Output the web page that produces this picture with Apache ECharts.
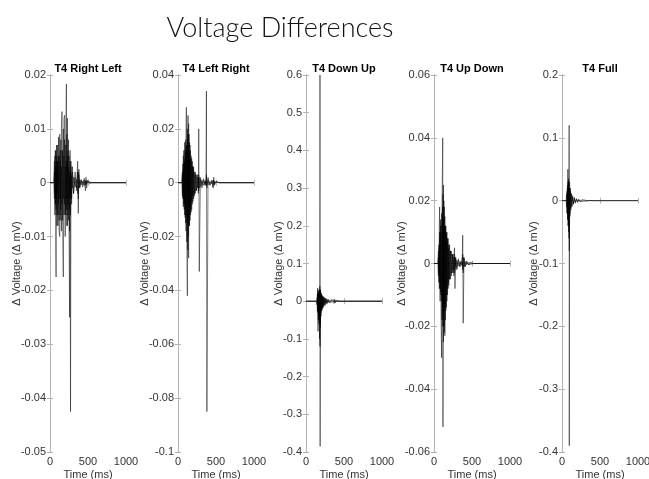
<!DOCTYPE html>
<html>
<head>
<meta charset="utf-8">
<script src="https://cdn.jsdelivr.net/npm/echarts@6/dist/echarts.min.js"></script>
<style>html,body{margin:0;padding:0;background:#fff}#c{width:649px;height:479px}</style>
</head>
<body>
<div id="c"></div>
<script>
// ---- data ----
const panelTitles = ['T4 Right Left', 'T4 Left Right', 'T4 Down Up', 'T4 Up Down', 'T4 Full'];
const xTicks = [0, 500, 1000];
const yMins = [-0.05, -0.1, -0.4, -0.06, -0.4];
const yMaxs = [0.02, 0.04, 0.6, 0.06, 0.2];
const yIntervals = [0.01, 0.02, 0.1, 0.02, 0.1];

// T4 Right Left
const timeRL = [0,50,58,64,70,76,80,86,92,98,105,112,120,128,135,142,150,158,166,175,184,192,200,208,216,222,228,236,244,252,258,264,270,276,284,295,310,330,350,364,372,380,392,410,430,450,466,474,482,495,520,560,1000];
const rlA = [0,0,0.004,-0.006,0.006,-0.012,-0.0175,0.005,-0.008,0.007,-0.006,0.0085,-0.009,-0.010,0.006,-0.007,0.010,0.0132,-0.008,-0.0175,0.012,0.0125,-0.006,0.010,0.0183,-0.008,0.012,-0.006,0.008,-0.012,-0.025,0.006,-0.0425,0.004,-0.004,0.003,-0.002,0.002,-0.001,0.004,-0.0057,0.0025,-0.001,0.0005,-0.0008,0.0005,-0.0015,0.001,-0.001,0.0005,-0.0002,0,0];
const rlB = [0,0,-0.003,0.005,-0.004,0.006,-0.005,0.007,-0.006,0.004,-0.008,0.005,-0.007,0.009,-0.006,0.008,-0.009,0.006,-0.007,0.010,-0.006,0.008,-0.010,0.007,-0.005,0.009,-0.008,0.006,-0.007,0.005,-0.009,0.004,-0.006,0.003,-0.003,0.002,-0.002,0.001,-0.0015,0.002,-0.003,0.0015,-0.0008,0.0006,-0.0004,0.0008,-0.0005,0.0004,-0.0003,0.0002,-0.0001,0,0];
const rlC = [0,0,0.002,-0.002,0.003,-0.004,0.002,-0.003,0.004,-0.002,0.003,-0.004,0.005,-0.003,0.004,-0.005,0.003,-0.004,0.006,-0.003,0.005,-0.004,0.003,-0.006,0.004,-0.003,0.005,-0.004,0.003,-0.005,0.002,-0.003,0.002,-0.002,0.0015,-0.001,0.001,-0.0008,0.0006,-0.002,0.002,-0.001,0.0005,-0.0004,0.0003,-0.0005,0.0004,-0.0003,0.0002,-0.0001,0.0001,0,0];

// T4 Left Right
const timeLR = [0,50,58,64,70,76,82,88,94,100,106,110,116,123,128,132,136,140,146,152,158,165,172,180,188,196,205,215,228,240,255,268,273,280,295,315,335,355,368,374,380,395,420,445,462,470,480,500,540,1000];
const lrA = [0,0,0.004,-0.006,0.010,-0.008,0.008,-0.012,0.012,-0.015,0.018,0.028,-0.020,-0.042,0.015,0.025,-0.018,-0.028,0.018,-0.016,0.014,-0.012,0.010,-0.010,0.008,-0.007,0.006,-0.005,0.004,-0.003,0.003,-0.004,0.020,-0.033,0.002,-0.002,0.0015,-0.001,0.002,0.034,-0.085,0.002,-0.001,0.001,-0.002,0.002,-0.001,0.0005,0,0];
const lrB = [0,0,-0.005,0.007,-0.009,0.012,-0.010,0.015,-0.013,0.016,-0.018,0.014,-0.022,0.020,-0.025,0.018,-0.020,0.022,-0.016,0.015,-0.014,0.012,-0.011,0.009,-0.008,0.006,-0.006,0.004,-0.004,0.003,-0.002,0.002,-0.003,0.002,-0.0015,0.001,-0.001,0.0008,-0.001,0.003,-0.002,0.001,-0.0008,0.0005,-0.0015,0.001,-0.0005,0.0003,0,0];
const lrC = [0,0,0.003,-0.004,0.005,-0.006,0.007,-0.008,0.009,-0.010,0.012,-0.012,0.014,-0.015,0.016,-0.014,0.012,-0.013,0.011,-0.010,0.009,-0.009,0.008,-0.007,0.006,-0.005,0.005,-0.004,0.003,-0.003,0.002,-0.002,0.003,-0.002,0.0012,-0.001,0.0008,-0.0006,0.0005,-0.001,0.0015,-0.0008,0.0005,-0.0004,0.001,-0.0008,0.0004,-0.0002,0,0];

// T4 Down Up
const timeDU = [0,140,146,150,154,158,162,166,170,174,178,182,184,186,190,194,198,204,210,216,224,232,240,250,262,275,290,310,330,350,362,370,378,386,396,410,430,460,500,1000];
const duA = [0,0,0.01,-0.03,0.035,-0.08,0.02,-0.04,0.025,-0.03,0.03,-0.02,0.6,-0.385,0.03,-0.03,0.02,-0.025,0.015,-0.02,0.012,-0.015,0.01,-0.012,0.008,-0.008,0.005,-0.004,0.003,-0.002,0.004,-0.006,0.005,-0.004,0.002,-0.002,0.001,-0.0005,0,0];
const duB = [0,0,-0.01,0.02,-0.025,0.03,-0.05,0.025,-0.06,0.03,-0.1,0.04,-0.12,0.03,-0.06,0.025,-0.04,0.02,-0.025,0.015,-0.018,0.012,-0.01,0.008,-0.006,0.005,-0.004,0.003,-0.002,0.0015,-0.003,0.004,-0.003,0.002,-0.0015,0.001,-0.0008,0.0004,0,0];
const duC = [0,0,0.005,-0.01,0.015,-0.02,0.02,-0.03,0.015,-0.025,0.02,-0.05,0.03,-0.07,0.02,-0.03,0.015,-0.02,0.01,-0.015,0.01,-0.01,0.008,-0.008,0.006,-0.005,0.004,-0.003,0.002,-0.002,0.002,-0.003,0.002,-0.002,0.001,-0.001,0.0005,-0.0003,0,0];

// T4 Up Down
const timeUD = [0,50,58,64,70,74,80,86,92,100,106,112,115,118,124,130,136,143,150,156,163,170,178,186,195,205,215,228,240,252,262,270,276,285,300,320,340,360,372,378,384,395,410,430,455,480,520,1000];
const udA = [0,0,0.004,-0.006,0.012,0.018,-0.008,0.012,-0.015,-0.030,0.02,0.032,0.040,-0.052,0.025,-0.02,0.018,-0.023,0.012,-0.015,0.01,-0.012,0.008,-0.008,0.006,-0.005,0.004,-0.004,0.003,-0.003,0.002,0.005,-0.008,0.002,-0.002,0.0015,-0.001,0.001,0.002,0.009,-0.019,0.002,-0.001,0.0008,-0.0005,0.0003,0,0];
const udB = [0,0,-0.004,0.006,-0.008,0.010,-0.012,0.014,-0.010,0.016,-0.018,0.018,-0.02,0.022,-0.025,0.020,-0.022,0.015,-0.018,0.012,-0.014,0.01,-0.01,0.008,-0.007,0.006,-0.005,0.004,-0.003,0.003,-0.004,0.003,-0.002,0.0015,-0.0015,0.001,-0.001,0.0008,-0.001,0.003,-0.003,0.0015,-0.001,0.0006,-0.0004,0.0002,0,0];
const udC = [0,0,0.002,-0.003,0.005,-0.006,0.008,-0.009,0.01,-0.012,0.013,-0.014,0.015,-0.016,0.014,-0.015,0.012,-0.013,0.011,-0.01,0.009,-0.008,0.007,-0.006,0.005,-0.005,0.004,-0.003,0.003,-0.002,0.002,-0.003,0.002,-0.001,0.001,-0.0008,0.0006,-0.0005,0.0005,-0.002,0.002,-0.001,0.0006,-0.0004,0.0003,-0.0002,0,0];

// T4 Full
const timeFull = [0,55,60,65,70,74,77,80,84,88,92,94,96,100,105,110,116,122,130,140,150,162,175,190,205,220,240,260,280,300,330,360,400,1000];
const fullA = [0,0,0.01,-0.02,0.02,-0.03,0.05,-0.04,0.03,-0.05,0.04,0.12,-0.39,0.03,-0.025,0.02,-0.015,0.012,-0.01,0.008,-0.006,0.005,-0.004,0.003,-0.003,0.002,-0.002,0.0015,-0.001,0.001,-0.0005,0.0003,0,0];
const fullB = [0,0,-0.01,0.015,-0.02,0.025,-0.03,0.03,-0.04,0.035,-0.06,0.02,-0.08,0.02,-0.02,0.015,-0.012,0.01,-0.008,0.006,-0.005,0.004,-0.003,0.003,-0.002,0.002,-0.0015,0.001,-0.001,0.0008,-0.0004,0.0002,0,0];

const panelTimes = [timeRL, timeLR, timeDU, timeUD, timeFull];
const panelTraces = [[rlA, rlB, rlC], [lrA, lrB, lrC], [duA, duB, duC], [udA, udB, udC], [fullA, fullB]];

// ---- layout ----
const gridLefts = [50, 178, 306, 434, 562];
const gridWidth = 76, gridTop = 75, gridHeight = 377;
const nameGaps = [28, 28, 22, 27, 23];
const boxColor = '#b4b4b4';
const labelFont = '"Liberation Sans Narrow", "Liberation Sans", Arial, sans-serif';

const grid = [], xAxis = [], yAxis = [], series = [], graphic = [];
graphic.push({type: 'text', x: 280, y: 28, style: {text: 'Voltage Differences', font: '300 27px Lato', fill: '#111', align: 'center', verticalAlign: 'middle'}});

panelTitles.forEach((title, i) => {
  grid.push({left: gridLefts[i], top: gridTop, width: gridWidth, height: gridHeight, containLabel: false, outerBoundsMode: 'none'});
  graphic.push({type: 'text', x: gridLefts[i] + gridWidth / 2, y: 69, style: {text: title, font: 'bold 11px ' + labelFont, fill: '#000', align: 'center', verticalAlign: 'middle'}});
  const xCommon = {type: 'value', gridIndex: i, min: xTicks[0], max: xTicks[xTicks.length - 1], interval: xTicks[1] - xTicks[0],
    axisLine: {show: true, lineStyle: {color: boxColor, width: 1}}, axisTick: {show: true, inside: true, length: 3, lineStyle: {color: boxColor}},
    splitLine: {show: false}};
  xAxis.push(Object.assign({}, xCommon, {position: 'bottom', name: 'Time (ms)', nameLocation: 'middle', nameGap: 17,
    nameMoveOverlap: false,
    nameTextStyle: {fontFamily: labelFont, fontSize: 11, color: '#333'},
    axisLabel: {show: true, margin: 4, fontFamily: labelFont, fontSize: 11, color: '#333', formatter: v => String(v)}}));
  xAxis.push(Object.assign({}, xCommon, {position: 'top', axisLabel: {show: false}}));
  const yCommon = {type: 'value', gridIndex: i, min: yMins[i], max: yMaxs[i], interval: yIntervals[i],
    axisLine: {show: true, lineStyle: {color: boxColor, width: 1}}, axisTick: {show: true, inside: true, length: 3, lineStyle: {color: boxColor}},
    splitLine: {show: false}};
  yAxis.push(Object.assign({}, yCommon, {position: 'left', name: 'Δ Voltage (Δ mV)', nameLocation: 'middle', nameGap: nameGaps[i],
    nameMoveOverlap: false,
    nameTextStyle: {fontFamily: '"Liberation Sans", Arial, sans-serif', fontSize: 11, color: '#333'},
    axisLabel: {show: true, margin: 4, fontFamily: labelFont, fontSize: 11, color: '#333',
      formatter: v => String(Math.round(v * 1000) / 1000)}}));
  yAxis.push(Object.assign({}, yCommon, {position: 'right', axisLabel: {show: false}}));
  panelTraces[i].forEach(vals => {
    const n = Math.min(vals.length, panelTimes[i].length);
    const data = [];
    for (let k = 0; k < n; k++) data.push([panelTimes[i][k], vals[k]]);
    series.push({type: 'line', xAxisIndex: 2 * i, yAxisIndex: 2 * i, data: data, showSymbol: false, symbol: 'none',
      clip: true, lineStyle: {color: 'rgba(0,0,0,0.7)', width: 0.7}, silent: true});
  });
});

const chart = echarts.init(document.getElementById('c'), null, {renderer: 'canvas'});
chart.setOption({animation: false, backgroundColor: '#fff', grid, xAxis, yAxis, series, graphic});
</script>
</body>
</html>
